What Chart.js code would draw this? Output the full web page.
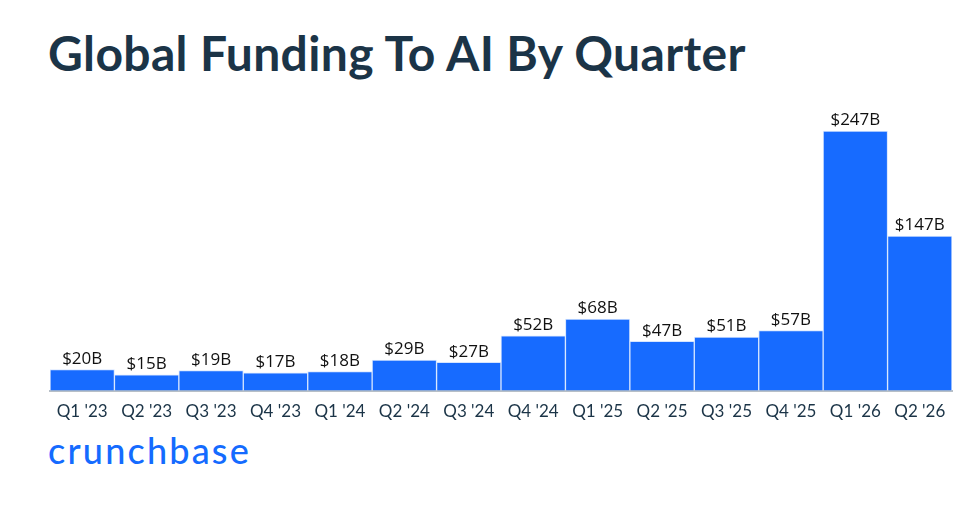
<!DOCTYPE html>
<html>
<head>
<meta charset="utf-8">
<script src="https://cdn.jsdelivr.net/npm/chart.js@4.4.4/dist/chart.umd.min.js"></script>
<style>
  html, body { margin: 0; padding: 0; background: #ffffff; }
  body { width: 971px; height: 507px; position: relative; overflow: hidden; }
  #title {
    position: absolute; left: 48px; top: 24px;
    font-family: Lato, "Open Sans", sans-serif; font-weight: 700;
    font-size: 48px; color: #1b3447; white-space: nowrap; letter-spacing: 0.35px;
  }
  #logo {
    position: absolute; left: 48px; top: 428px;
    font-family: Lato, sans-serif; font-weight: 500;
    font-size: 36px; color: #146bff; white-space: nowrap; letter-spacing: 2.2px;
  }
  #wrap { position: absolute; left: 0; top: 0; width: 971px; height: 507px; }
</style>
</head>
<body>
<div id="title">Global Funding To AI By Quarter</div>
<div id="logo">crunchbase</div>
<div id="wrap"><canvas id="chart"></canvas></div>
<script>
// quarters and funding totals (billions USD)
const quarters = ["Q1 '23", "Q2 '23", "Q3 '23", "Q4 '23", "Q1 '24", "Q2 '24", "Q3 '24", "Q4 '24",
  "Q1 '25", "Q2 '25", "Q3 '25", "Q4 '25", "Q1 '26", "Q2 '26"];
const funding = [20, 15, 19, 17, 18, 29, 27, 52, 68, 47, 51, 57, 247, 147];

const BAR_BLUE = '#176bff';
const NAVY = '#1b3447';

// simple value-label plugin (no datalabels plugin available)
const valueLabels = {
  id: 'valueLabels',
  afterDatasetsDraw(chart) {
    const { ctx } = chart;
    const meta = chart.getDatasetMeta(0);
    ctx.save();
    ctx.font = '17px "Open Sans", sans-serif';
    ctx.fillStyle = '#111111';
    ctx.textAlign = 'center';
    ctx.textBaseline = 'bottom';
    meta.data.forEach((bar, i) => {
      ctx.fillText('$' + funding[i] + 'B', bar.x, bar.y - 2);
    });
    ctx.restore();
  },
};

new Chart(document.getElementById('chart'), {
  type: 'bar',
  data: {
    labels: quarters,
    datasets: [{
      data: funding,
      backgroundColor: BAR_BLUE,
      borderColor: '#d6e5ff',
      borderWidth: 1,
      barPercentage: 1,
      categoryPercentage: 1,
    }],
  },
  options: {
    responsive: true,
    maintainAspectRatio: false,
    animation: false,
    layout: { padding: { left: 50, right: 19, top: 110, bottom: 82 } },
    plugins: { legend: { display: false }, tooltip: { enabled: false } },
    scales: {
      x: {
        grid: { display: false },
        border: { color: '#b7bfc7', width: 2 },
        ticks: { color: NAVY, font: { family: 'Lato, sans-serif', size: 17 }, padding: 3, maxRotation: 0 },
      },
      y: { display: false, min: 0, max: 267 },
    },
  },
  plugins: [valueLabels],
});
</script>
</body>
</html>
